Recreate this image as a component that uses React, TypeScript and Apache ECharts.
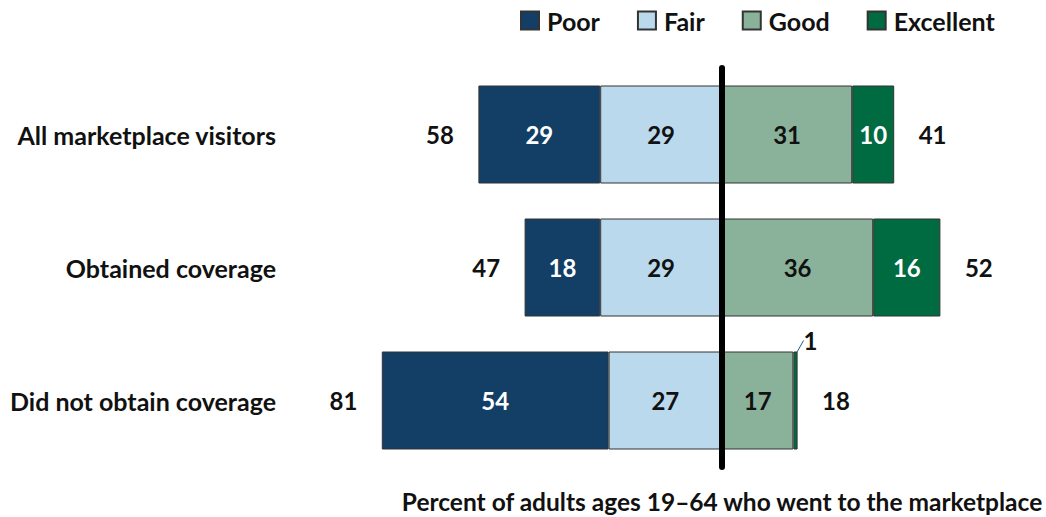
import React, { useEffect, useRef } from "react";
import * as echarts from "echarts";

const categories = ["All marketplace visitors", "Obtained coverage", "Did not obtain coverage"];
const poor = [29, 18, 54];
const fair = [29, 29, 27];
const good = [31, 36, 17];
const excellent = [10, 16, 1];
const leftTotals = [58, 47, 81];
const rightTotals = [41, 52, 18];
const axisTitle = "Percent of adults ages 19–64 who went to the marketplace";

const FONT = "Lato, 'Open Sans', sans-serif";
const C_POOR = "#133F66";
const C_FAIR = "#BAD9EC";
const C_GOOD = "#8AB29A";
const C_EXC = "#006A40";

export default function App() {
  const ref = useRef<HTMLDivElement>(null);
  useEffect(() => {
    document.body.style.margin = "0";
    const chart = echarts.init(ref.current!, undefined, { renderer: "svg" });
    const labelBase = {
      show: true,
      fontFamily: FONT,
      fontWeight: "bold" as const,
      fontSize: 24,
    };
    const barCommon = {
      type: "bar" as const,
      stack: "total",
      barWidth: 98,
      itemStyle: { borderColor: "#333", borderWidth: 1 },
    };
    chart.setOption({
      animation: false,
      textStyle: { fontFamily: FONT },
      grid: { left: 344, right: 30, top: 68, bottom: 50 },
      legend: {
        data: ["Poor", "Fair", "Good", "Excellent"],
        left: 515,
        top: 3,
        itemWidth: 18,
        itemHeight: 18,
        itemGap: 37,
        icon: "rect",
        textStyle: { fontFamily: FONT, fontWeight: "bold", fontSize: 25, color: "#111", padding: [0, 0, 0, 3] },
      },
      xAxis: {
        type: "value",
        min: -90,
        max: 70,
        show: false,
        splitLine: { show: false },
      },
      yAxis: {
        type: "category",
        data: categories,
        inverse: true,
        z: 10,
        axisTick: { show: false },
        axisLine: { show: true, onZero: true, lineStyle: { color: "#000", width: 6 } },
        axisLabel: {
          margin: 68,
          fontFamily: FONT,
          fontWeight: "bold",
          fontSize: 25,
          color: "#111",
        },
      },
      series: [
        {
          ...barCommon,
          name: "Fair",
          data: fair.map((v) => -v),
          itemStyle: { ...barCommon.itemStyle, color: C_FAIR },
          label: { ...labelBase, position: "inside", color: "#111", formatter: (p: any) => Math.abs(p.value) },
        },
        {
          ...barCommon,
          name: "Poor",
          data: poor.map((v) => -v),
          itemStyle: { ...barCommon.itemStyle, color: C_POOR },
          label: { ...labelBase, position: "inside", color: "#fff", formatter: (p: any) => Math.abs(p.value) },
        },
        {
          ...barCommon,
          name: "Good",
          data: good,
          itemStyle: { ...barCommon.itemStyle, color: C_GOOD },
          label: { ...labelBase, position: "inside", color: "#111" },
        },
        {
          ...barCommon,
          name: "Excellent",
          data: excellent.map((v) =>
            v < 3
              ? {
                  value: v,
                  label: { ...labelBase, position: "top", color: "#111", distance: 3 },
                  labelLine: { show: true, lineStyle: { color: "#2a5a8a", width: 1 } },
                }
              : v
          ),
          itemStyle: { ...barCommon.itemStyle, color: C_EXC },
          label: { ...labelBase, position: "inside", color: "#fff" },
          labelLayout: (p: any) => (excellent[p.dataIndex] < 3 ? { dx: 15, dy: 4 } : {}),
        },
        {
          type: "scatter",
          name: "leftTotal",
          symbolSize: 1,
          itemStyle: { color: "rgba(0,0,0,0)", opacity: 1 },
          data: leftTotals.map((v, i) => [-v, categories[i]]),
          label: { ...labelBase, position: "left", distance: 24, color: "#111", opacity: 1, formatter: (p: any) => Math.abs(p.value[0]) },
          z: 5,
        },
        {
          type: "scatter",
          name: "rightTotal",
          symbolSize: 1,
          itemStyle: { color: "rgba(0,0,0,0)", opacity: 1 },
          data: rightTotals.map((v, i) => [v, categories[i]]),
          label: { ...labelBase, position: "right", distance: 24, color: "#111", opacity: 1, formatter: (p: any) => p.value[0] },
          z: 5,
        },
      ],
    });
    const x0 = chart.convertToPixel({ xAxisIndex: 0 }, 0) as number;
    chart.setOption({
      graphic: [
        {
          type: "text",
          x: x0,
          y: 501,
          style: {
            text: axisTitle,
            fontFamily: FONT,
            fontWeight: "bold",
            fontSize: 24.5,
            fill: "#111",
            align: "center",
            verticalAlign: "middle",
          },
        },
      ],
    });
    return () => chart.dispose();
  }, []);
  return <div ref={ref} style={{ width: 1046, height: 517 }} />;
}
